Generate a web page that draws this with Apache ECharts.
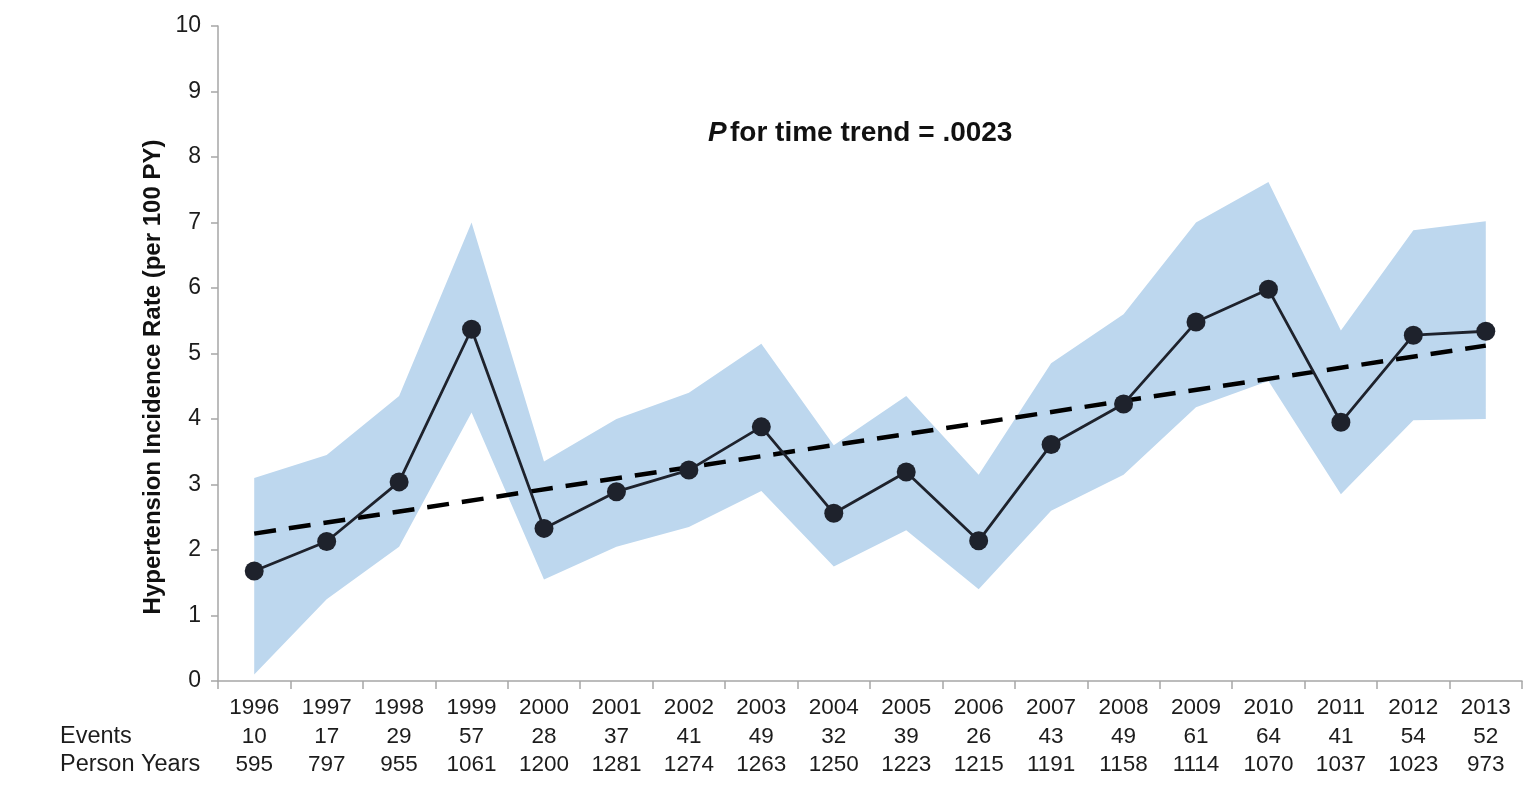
<!DOCTYPE html>
<html>
<head>
<meta charset="utf-8">
<script src="https://cdn.jsdelivr.net/npm/echarts@6/dist/echarts.min.js"></script>
<style>
  html, body { margin: 0; padding: 0; background: #fff; }
  #chart { width: 1528px; height: 786px; }
</style>
</head>
<body>
<div id="chart"></div>
<script>
// Hypertension incidence by calendar year, with 95% CI band and linear trend
const years = ['1996','1997','1998','1999','2000','2001','2002','2003','2004','2005','2006','2007','2008','2009','2010','2011','2012','2013'];
const events = [10, 17, 29, 57, 28, 37, 41, 49, 32, 39, 26, 43, 49, 61, 64, 41, 54, 52];
const personYears = [595, 797, 955, 1061, 1200, 1281, 1274, 1263, 1250, 1223, 1215, 1191, 1158, 1114, 1070, 1037, 1023, 973];
const rate = [1.68, 2.13, 3.04, 5.37, 2.33, 2.89, 3.22, 3.88, 2.56, 3.19, 2.14, 3.61, 4.23, 5.48, 5.98, 3.95, 5.28, 5.34];
const ciLower = [0.10, 1.25, 2.05, 4.10, 1.55, 2.05, 2.35, 2.90, 1.75, 2.30, 1.40, 2.60, 3.15, 4.18, 4.58, 2.85, 3.98, 4.00];
const ciUpper = [3.10, 3.45, 4.35, 7.00, 3.35, 4.00, 4.40, 5.15, 3.60, 4.35, 3.15, 4.85, 5.60, 7.00, 7.62, 5.35, 6.88, 7.02];
const trendEnds = [['1996', 2.25], ['2013', 5.12]];
const yTicks = [0, 1, 2, 3, 4, 5, 6, 7, 8, 9, 10];

const chart = echarts.init(document.getElementById('chart'));
const font = '"Liberation Sans", Arial, sans-serif';
const bandWidth = ciUpper.map((u, i) => +(u - ciLower[i]).toFixed(3));

chart.setOption({
  animation: false,
  grid: { left: 218, right: 6, top: 26, bottom: 105 },
  xAxis: {
    type: 'category',
    data: years,
    boundaryGap: true,
    axisLine: { lineStyle: { color: '#a6a6a6', width: 1.5 } },
    axisTick: { show: true, length: 8, lineStyle: { color: '#a6a6a6', width: 1.5 } },
    axisLabel: {
      interval: 0,
      margin: 13,
      color: '#1c1c1c',
      fontFamily: font,
      fontSize: 22.5,
      lineHeight: 28.5,
      formatter: (v, i) => v + '\n' + events[i] + '\n' + personYears[i]
    }
  },
  yAxis: {
    type: 'value',
    min: yTicks[0],
    max: yTicks[yTicks.length - 1],
    interval: 1,
    splitLine: { show: false },
    axisLine: { show: true, lineStyle: { color: '#a6a6a6', width: 1.5 } },
    axisTick: { show: true, length: 7, lineStyle: { color: '#a6a6a6', width: 1.5 } },
    axisLabel: { color: '#1c1c1c', fontFamily: font, fontSize: 23, margin: 17 }
  },
  series: [
    {
      type: 'line', stack: 'ci', data: ciLower, symbol: 'none',
      lineStyle: { opacity: 0 }, silent: true, z: 1
    },
    {
      type: 'line', stack: 'ci', data: bandWidth, symbol: 'none',
      lineStyle: { opacity: 0 }, areaStyle: { color: '#bdd7ee', opacity: 1 }, silent: true, z: 1
    },
    {
      type: 'line', data: trendEnds, symbol: 'none', z: 3,
      lineStyle: { color: '#000', width: 4.5, type: [22, 13] }
    },
    {
      type: 'line', data: rate, z: 4,
      symbol: 'circle', symbolSize: 19,
      itemStyle: { color: '#1e222c' },
      lineStyle: { color: '#1e222c', width: 2.8 }
    }
  ],
  graphic: [
    {
      type: 'text', x: 153, y: 377, rotation: Math.PI / 2,
      style: {
        text: 'Hypertension Incidence Rate (per 100 PY)',
        font: 'bold 24px ' + font, fill: '#111',
        align: 'center', verticalAlign: 'middle'
      }
    },
    {
      type: 'text', x: 60, y: 737,
      style: { text: 'Events', font: '23.5px ' + font, fill: '#1c1c1c', verticalAlign: 'middle' }
    },
    {
      type: 'text', x: 60, y: 765,
      style: { text: 'Person Years', font: '23.5px ' + font, fill: '#1c1c1c', verticalAlign: 'middle' }
    },
    {
      type: 'text', x: 708, y: 133,
      style: {
        text: '{p|P} {t|for time trend = .0023}',
        verticalAlign: 'middle',
        rich: {
          p: { font: 'italic bold 28px ' + font, fill: '#111' },
          t: { font: 'bold 28px ' + font, fill: '#111' }
        }
      }
    }
  ]
});
</script>
</body>
</html>
